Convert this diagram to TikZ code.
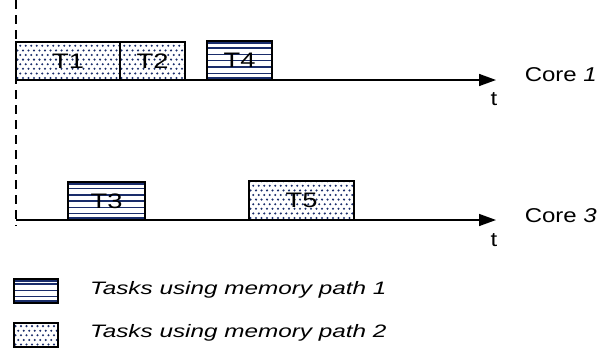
\documentclass[tikz,border=0pt]{standalone}
\usepackage{fontspec}
\setmainfont{Liberation Sans}
\usetikzlibrary{arrows.meta,calc}
\definecolor{navy}{HTML}{1A2D6B}
\newcommand{\wide}[1]{\scalebox{1.3}[1]{#1}}
\tikzset{
  taskbase/.style={draw=black, line width=2pt, fill=white, inner sep=0pt, outer sep=0pt, font=\fontsize{21}{23}\selectfont},
  striped/.style={taskbase, path picture={
      \path (path picture bounding box.south west) coordinate (sw)
            (path picture bounding box.north east) coordinate (ne);
      \foreach \k in {1,...,8}{
        \draw[navy, line width=1.4pt] ($(sw)+(0pt,\k*6.3pt)$) -- ++(120pt,0pt);
      }
      \fill[navy] (sw) rectangle ($(sw-|ne)+(0pt,3pt)$);
      \fill[navy] (ne) rectangle ($(sw|-ne)+(0pt,-3pt)$);
  }},
  dotted/.style={taskbase, path picture={
      \path (path picture bounding box.south west) coordinate (sw);
      \foreach \i in {0,...,10}{
        \foreach \j in {0,...,22}{
          \pgfmathsetmacro\xx{\j*5.5+mod(\i,2)*2.75+1.5}
          \fill[navy] ($(sw)+(\xx pt,\i*4.6pt+2pt)$) circle (1.15pt);
        }
      }
  }},
  axis/.style={line width=1.5pt, -{Triangle[length=17pt,width=12pt]}},
  lbl/.style={font=\fontsize{20}{22}\selectfont, inner sep=0pt},
  leg/.style={font=\fontsize{18}{20}\selectfont\itshape, anchor=west, inner sep=0pt}
}
\begin{document}
\begin{tikzpicture}[x=1pt,y=-1pt]
\useasboundingbox (0,0) rectangle (599,356);
% dashed time origin
\coordinate (d0) at (16,0);
\coordinate (d1) at (16,226);
\draw[line width=1.5pt, dash pattern=on 9pt off 6pt] (d0) -- (d1);
% axes
\coordinate (a1s) at (16,80);
\coordinate (a1e) at (496,80);
\coordinate (a3s) at (16,220);
\coordinate (a3e) at (496,220);
% tasks core 1
\node[dotted, minimum width=104, minimum height=38] (T1) at (68,61) {\wide{T1}};
\node[dotted, minimum width=65, minimum height=38] (T2) at (152.5,61) {\wide{T2}};
\node[striped, minimum width=65, minimum height=39] (T4) at (239.5,60) {\wide{T4}};
% tasks core 3
\node[striped, minimum width=77, minimum height=38] (T3) at (106.5,201) {\wide{T3}};
\node[dotted, minimum width=105, minimum height=39] (T5) at (301.5,200.5) {\wide{T5}};
\draw[axis] (a1s) -- (a1e);
\draw[axis] (a3s) -- (a3e);
\node[lbl] (t1) at (494,99) {\scalebox{1.2}[1]{t}};
\node[lbl] (t3) at (494,240) {\scalebox{1.2}[1]{t}};
\node[lbl, anchor=east] (c1) at (597,75) {\scalebox{1.2}[1]{Core \textit{1}}};
\node[lbl, anchor=east] (c3) at (597,216) {\scalebox{1.2}[1]{Core \textit{3}}};
% legend
\node[striped, minimum width=44, minimum height=24] (L1) at (36,291) {};
\node[dotted, minimum width=44, minimum height=24] (L2) at (36,334.5) {};
\node[leg] (l1t) at (90,290) {\scalebox{1.35}[1]{Tasks using memory path 1}};
\node[leg] (l2t) at (90,333) {\scalebox{1.35}[1]{Tasks using memory path 2}};
\end{tikzpicture}
\end{document}
